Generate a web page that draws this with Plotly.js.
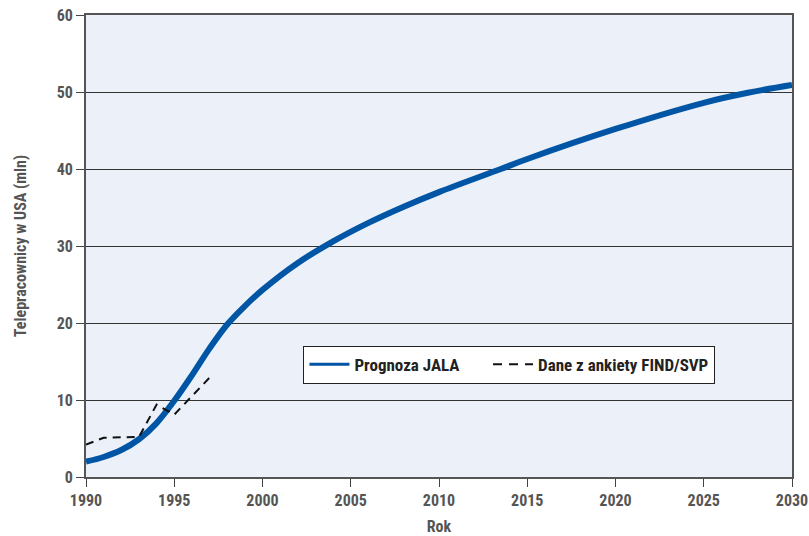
<!DOCTYPE html>
<html><head><meta charset="utf-8">
<script src="https://cdn.plot.ly/plotly-3.0.1.min.js"></script>
<style>html,body{margin:0;padding:0;background:#fff}#c{width:809px;height:536px}</style>
</head><body><div id="c"></div>
<script>
const jalaYears = [1990,1991,1992,1993,1994,1995,1996,1997,1998,1999,2000,2002,2004,2006,2008,2010,2013.5,2015,2020,2025,2027.5,2030];
const jalaValues = [2.0,2.6,3.5,4.9,7.0,9.9,13.2,16.7,19.8,22.2,24.3,27.8,30.6,33.0,35.1,37.0,40.0,41.3,45.2,48.6,49.9,50.9];
const surveyYears = [1990,1991,1993,1994,1995,1997];
const surveyValues = [4.2,5.1,5.2,9.4,8.1,12.9];
const xTicks = [1990,1995,2000,2005,2010,2015,2020,2025,2030];
const yTicks = [0,10,20,30,40,50,60];
const seriesNames = ['Prognoza JALA', 'Dane z ankiety FIND/SVP'];
const FONT = '"Liberation Sans Narrow", "Roboto Condensed", "DejaVu Sans Condensed", sans-serif';

const traces = [
  {x: jalaYears, y: jalaValues, mode:'lines', name:seriesNames[0], showlegend:false,
   line:{color:'#0055a5', width:6, shape:'spline', smoothing:1.0}},
  {x: surveyYears, y: surveyValues, mode:'lines', name:seriesNames[1], showlegend:false,
   line:{color:'#111', width:2, dash:'8px,6px'}},
  {x:[null], y:[null], mode:'lines', name:seriesNames[0] + '\u00a0\u00a0\u00a0\u00a0\u00a0\u00a0', line:{color:'#0055a5', width:3}},
  {x:[null], y:[null], mode:'lines', name:seriesNames[1], line:{color:'#111', width:2, dash:'9px,7px'}}
];
const layout = {
  width:809, height:536,
  margin:{l:86, r:17, t:15, b:59},
  paper_bgcolor:'#fff', plot_bgcolor:'#ebf0f9',
  font:{family:FONT, size:16, color:'#555'},
  showlegend:true,
  legend:{orientation:'h', x:0.308, y:0.284, xanchor:'left', yanchor:'top',
    bgcolor:'#fff', bordercolor:'#222', borderwidth:1,
    font:{family:FONT, size:17, color:'#222', weight:'bold'}, itemwidth:40, tracegroupgap:0},
  xaxis:{range:[1990,2030], tickvals:xTicks, ticks:'outside', ticklen:8, tickcolor:'#444',
    showline:true, linecolor:'#555', linewidth:2, mirror:true, showgrid:false, zeroline:false,
    tickfont:{family:FONT, size:16, color:'#555', weight:'bold'},
    title:{text:'Rok', font:{family:FONT, size:16, color:'#555', weight:'bold'}, standoff:14}},
  yaxis:{range:[0,60], tickvals:yTicks, ticks:'outside', ticklen:8, tickcolor:'#444',
    showline:true, linecolor:'#555', linewidth:2, mirror:true, showgrid:true, gridcolor:'#333', gridwidth:1, zeroline:false,
    tickfont:{family:FONT, size:16, color:'#555', weight:'bold'},
    title:{text:'Telepracownicy w USA (mln)', font:{family:FONT, size:16, color:'#555', weight:'bold'}, standoff:26}}
};
Plotly.newPlot('c', traces, layout, {displayModeBar:false});
</script></body></html>
